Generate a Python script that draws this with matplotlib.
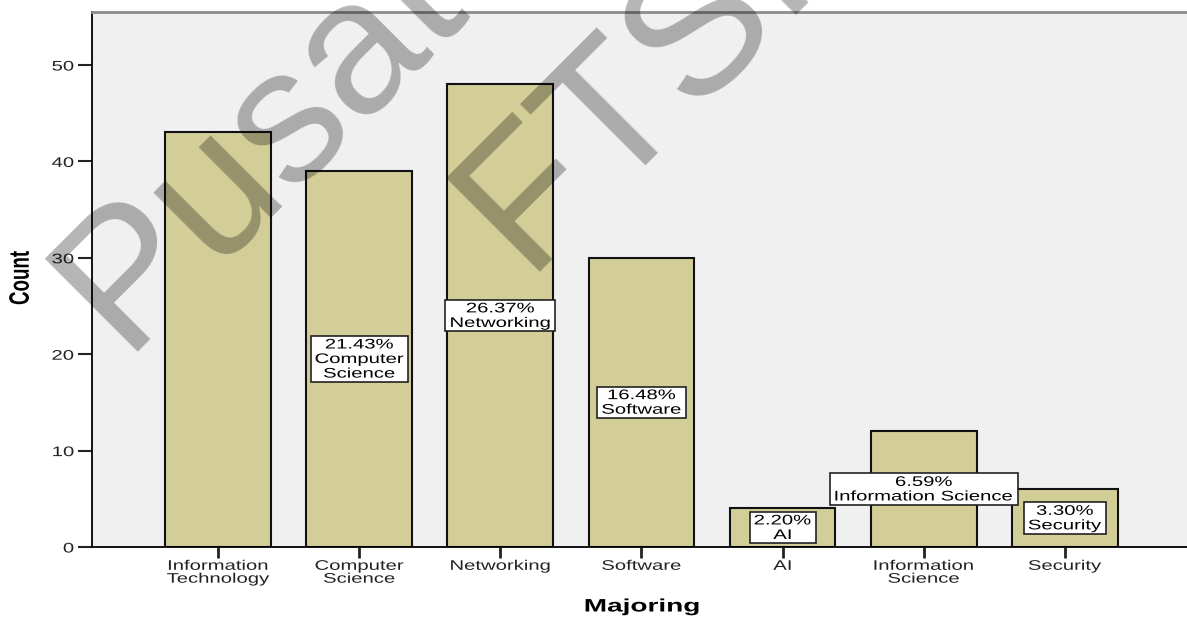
import matplotlib.pyplot as plt
import numpy as np
from matplotlib.patches import Rectangle
from matplotlib.patheffects import AbstractPathEffect
from matplotlib.transforms import Affine2D

majors = ["Information\nTechnology", "Computer\nScience", "Networking", "Software",
          "AI", "Information\nScience", "Security"]
counts = [43, 39, 48, 30, 4, 12, 6]
# names shown inside the percentage boxes (first bar has no box)
box_names = [None, "Computer\nScience", "Networking", "Software", "AI",
             "Information Science", "Security"]
y_ticks = [0, 10, 20, 30, 40, 50]

total = sum(counts)
pcts = [c / total * 100 for c in counts]

FONT = "Liberation Sans"
WIDE = 1.46  # glyphs are drawn wider than normal


class Stretch(AbstractPathEffect):
    """Scale glyph outlines in text space, keeping the chosen side in place."""

    def __init__(self, sx=1.0, sy=1.0, anchor="center"):
        super().__init__()
        self.sx, self.sy, self.anchor = sx, sy, anchor

    def draw_path(self, renderer, gc, tpath, affine, rgbFace=None):
        ext = tpath.get_extents()
        if self.anchor == "left":
            cx = ext.x0
        elif self.anchor == "right":
            cx = ext.x1
        else:
            cx = (ext.x0 + ext.x1) / 2
        cy = (ext.y0 + ext.y1) / 2
        st = Affine2D().translate(-cx, -cy).scale(self.sx, self.sy).translate(cx, cy)
        renderer.draw_path(gc, tpath, st + affine, rgbFace)


W, H = 1187, 621
fig = plt.figure(figsize=(W / 100, H / 100), dpi=100)
ax = fig.add_axes([92 / W, 74 / H, 1095 / W, 535 / H])
ax.set_facecolor("#f0f0f0")

x = np.arange(len(majors))
ax.bar(x, counts, width=0.75, color="#d3ce98", edgecolor="#111111", linewidth=1.5, zorder=2)

ax.set_xlim(-0.894, 6.866)
ax.set_ylim(0, 55.5)
ax.set_xticks(x)
ax.set_xticklabels(majors, family=FONT, fontsize=10, color="#222222")
for t in ax.get_xticklabels():
    t.set_linespacing(0.9)
    t.set_path_effects([Stretch(WIDE)])
ax.set_yticks(y_ticks)
ax.set_yticklabels([str(v) for v in y_ticks], family=FONT, fontsize=10, color="#222222")
for t in ax.get_yticklabels():
    t.set_path_effects([Stretch(WIDE, anchor="right")])
ax.tick_params(axis="y", length=10, width=1.5, pad=3, color="#222222")
ax.tick_params(axis="x", length=8, width=2, pad=0.5, color="#222222")

ax.spines["right"].set_visible(False)
ax.spines["top"].set_color("#8c8c8c")
ax.spines["top"].set_linewidth(2)
ax.spines["left"].set_linewidth(1.3)
ax.spines["bottom"].set_linewidth(1.3)

# percentage labels at the middle of each bar
labels = []
for i, (c, p, name) in enumerate(zip(counts, pcts, box_names)):
    if name is None:
        continue
    t = ax.text(i, c / 2, f"{p:.2f}%\n{name}", ha="center", va="center",
                family=FONT, fontsize=10, linespacing=1.05, zorder=4)
    t.set_path_effects([Stretch(WIDE)])
    labels.append(t)

fig.text(21 / W, 1 - 278 / H, "Count", rotation=90, ha="center", va="center",
         family=FONT, fontsize=13.5, fontweight="bold",
         path_effects=[Stretch(sy=1.5)])
fig.text(642 / W, 1 - 607 / H, "Majoring", ha="center", va="center",
         family=FONT, fontsize=13, fontweight="bold",
         path_effects=[Stretch(1.55)])

# white boxes behind the labels, sized to the widened text
fig.canvas.draw()
inv = ax.transData.inverted()
for t in labels:
    bb = t.get_window_extent()
    cx, cy = (bb.x0 + bb.x1) / 2, (bb.y0 + bb.y1) / 2
    hw = bb.width * WIDE / 2 + 4
    hh = bb.height / 2 + 1.5
    (x0, y0), (x1, y1) = inv.transform([(cx - hw, cy - hh), (cx + hw, cy + hh)])
    ax.add_patch(Rectangle((x0, y0), x1 - x0, y1 - y0, fc="white", ec="#222222",
                           lw=1.2, zorder=3))

# diagonal watermark, two lines
for txt, px, py in [("Pusat", 122, 352), ("FTSI", 524, 272)]:
    fig.text(px / 100, (H - py) / 100, txt, transform=fig.dpi_scale_trans,
             rotation=45, rotation_mode="anchor", ha="left", va="baseline",
             family=FONT, fontsize=138, color="black", alpha=0.29, zorder=10)

fig.savefig("out.png", dpi=100)
